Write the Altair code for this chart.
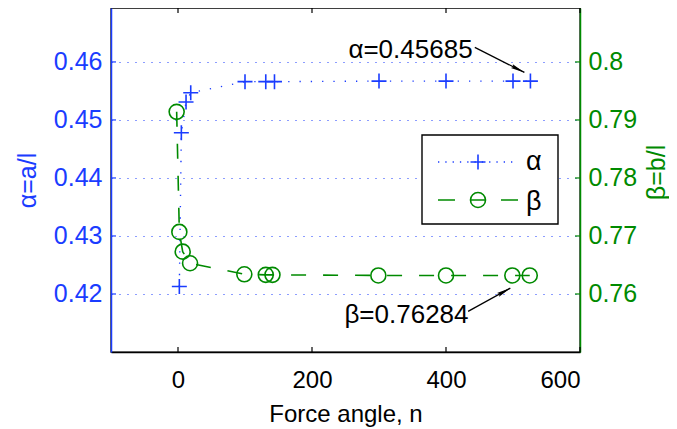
import math
import altair as alt
import pandas as pd

# ---------------- data ----------------
alpha_x = [2, 5, 12, 19, 100, 131, 144, 300, 400, 500, 526]
alpha_v = [0.4213, 0.4478, 0.4531, 0.4547, 0.4566, 0.4566, 0.4566, 0.4567, 0.4567, 0.4567, 0.4567]
beta_x = [-2, 2, 7, 18, 99, 131, 141, 299, 400, 499, 525]
beta_v = [0.7914, 0.7707, 0.7673, 0.7653, 0.7634, 0.7633, 0.7633, 0.7632, 0.7632, 0.7632, 0.7632]

x_ticks = [0, 200, 400, 600]
alpha_ticks = [0.42, 0.43, 0.44, 0.45, 0.46]
beta_ticks = [0.76, 0.77, 0.78, 0.79, 0.8]

alpha_note = {"text": "α=0.45685", "x": 347, "y": 0.4621,
              "x1": 443, "y1": 0.4625, "x2": 517, "y2": 0.4582}
beta_note = {"text": "β=0.76284", "x": 341, "y": 0.7564,
             "x1": 433, "y1": 0.7570, "x2": 496, "y2": 0.7610}

legend_labels = ["α", "β"]

# ---------------- layout / style ----------------
W, H = 469, 344
X_DOM = [-100, 600]
A_DOM = [0.41, 0.4693]
B_DOM = [0.75, 0.8093]
BLUE = "#1a3cff"
GREEN = "#008a00"
FONT = "Liberation Sans"

PLUS = "M-1,0L1,0M0,-1L0,1"
HEAD = "M0,0L0.3,2L0,1.75L-0.3,2Z"


def px(v):
    return (v - X_DOM[0]) / (X_DOM[1] - X_DOM[0]) * W


def py(v, dom):
    return H - (v - dom[0]) / (dom[1] - dom[0]) * H


def head_angle(n, dom):
    dx = px(n["x2"]) - px(n["x1"])
    dy = py(n["y2"], dom) - py(n["y1"], dom)
    return (math.degrees(math.atan2(dx, -dy)) + 360) % 360


xscale = alt.Scale(domain=X_DOM, nice=False, zero=False)
ascale = alt.Scale(domain=A_DOM, nice=False, zero=False)
bscale = alt.Scale(domain=B_DOM, nice=False, zero=False)

df_a = pd.DataFrame({"x": alpha_x, "v": alpha_v})
df_b = pd.DataFrame({"x": beta_x, "v": beta_v})
df_xt = pd.DataFrame({"x": x_ticks})
df_at = pd.DataFrame({"v": alpha_ticks})
df_bt = pd.DataFrame({"v": beta_ticks})
df_an = pd.DataFrame([dict(alpha_note, angle=head_angle(alpha_note, A_DOM))])
df_bn = pd.DataFrame([dict(beta_note, angle=head_angle(beta_note, B_DOM))])
one = pd.DataFrame({"k": [0]})

x_axis = alt.Axis(values=x_ticks, title="Force angle, n", ticks=False,
                  domainColor="black", domainWidth=1.5, labelFontSize=24,
                  labelPadding=16, labelColor="black", titleFontSize=24,
                  titleColor="black", titleFontWeight="normal", titlePadding=10,
                  grid=False, labelFont=FONT, titleFont=FONT)

a_axis = alt.Axis(values=alpha_ticks, format="~g", title="α=a/l", ticks=False,
                  orient="left",
                  domainColor=BLUE, domainWidth=1.5, labelColor=BLUE,
                  labelFontSize=25, labelPadding=9, titleColor=BLUE,
                  titleFontSize=25, titleFontWeight="normal",
                  titleX=-84, titleY=H / 2, titleAngle=270, titleAlign="center",
                  titleBaseline="middle", grid=True, gridColor=BLUE,
                  gridDash=[1, 7], gridWidth=1.2, gridOpacity=1,
                  labelFont=FONT, titleFont=FONT)

b_axis = alt.Axis(values=beta_ticks, format="~g", title="β=b/l", ticks=False,
                  orient="right", domainColor=GREEN, domainWidth=1.5,
                  labelColor=GREEN, labelFontSize=25, labelPadding=8,
                  titleColor=GREEN, titleFontSize=25, titleFontWeight="normal",
                  titleX=76, titleY=H / 2 - 8, titleAngle=270,
                  titleAlign="center", titleBaseline="middle", grid=False,
                  labelFont=FONT, titleFont=FONT)

X = lambda f: alt.X(f, type="quantitative", scale=xscale, axis=x_axis)
YA = lambda f: alt.Y(f, type="quantitative", scale=ascale, axis=a_axis)
YB = lambda f: alt.Y(f, type="quantitative", scale=bscale, axis=b_axis)

# ---------------- alpha group ----------------
a_line = alt.Chart(df_a).mark_line(color=BLUE, strokeDash=[1.3, 10], strokeWidth=1.4).encode(
    x=X("x"), y=YA("v"))
a_pts = alt.Chart(df_a).mark_point(shape=PLUS, size=225, filled=False, color=BLUE,
                                   strokeWidth=1.6, opacity=1).encode(
    x=X("x"), y=YA("v"))
a_ticks = alt.Chart(df_at).mark_rule(color=BLUE, strokeWidth=1.2).encode(
    y=YA("v"), x=alt.value(0), x2=alt.value(5))
x_ticks_b = alt.Chart(df_xt).mark_rule(color="black", strokeWidth=1.2).encode(
    x=X("x"), y=alt.value(H), y2=alt.value(H - 5))
x_ticks_t = alt.Chart(df_xt).mark_rule(color="black", strokeWidth=1.2).encode(
    x=X("x"), y=alt.value(0), y2=alt.value(5))
a_arrow = alt.Chart(df_an).mark_rule(color="black", strokeWidth=1.3).encode(
    x=X("x1"), x2="x2:Q", y=YA("y1"), y2="y2:Q")
a_head = alt.Chart(df_an).mark_point(shape=HEAD, size=196, filled=True, color="black",
                                     opacity=1, strokeWidth=0.5).encode(
    x=X("x2"), y=YA("y2"), angle=alt.Angle("angle:Q", scale=None))
a_text = alt.Chart(df_an).mark_text(fontSize=26, font=FONT, color="black",
                                    baseline="middle", align="center").encode(
    x=X("x"), y=YA("y"), text="text:N")
alpha_group = alt.layer(a_line, a_pts, a_ticks, x_ticks_b, x_ticks_t, a_arrow, a_head, a_text)

# ---------------- beta group ----------------
b_line = alt.Chart(df_b).mark_line(color=GREEN, strokeDash=[15, 17], strokeWidth=1.6).encode(
    x=X("x"), y=YB("v"))
b_pts = alt.Chart(df_b).mark_point(shape="circle", size=225, filled=False, color=GREEN,
                                   strokeWidth=1.6, opacity=1).encode(
    x=X("x"), y=YB("v"))
b_ticks = alt.Chart(df_bt).mark_rule(color=GREEN, strokeWidth=1.2).encode(
    y=YB("v"), x=alt.value(W - 5), x2=alt.value(W))
b_arrow = alt.Chart(df_bn).mark_rule(color="black", strokeWidth=1.3).encode(
    x=X("x1"), x2="x2:Q", y=YB("y1"), y2="y2:Q")
b_head = alt.Chart(df_bn).mark_point(shape=HEAD, size=196, filled=True, color="black",
                                     opacity=1, strokeWidth=0.5).encode(
    x=X("x2"), y=YB("y2"), angle=alt.Angle("angle:Q", scale=None))
b_text = alt.Chart(df_bn).mark_text(fontSize=26, font=FONT, color="black",
                                    baseline="middle", align="center").encode(
    x=X("x"), y=YB("y"), text="text:N")
beta_group = alt.layer(b_line, b_pts, b_ticks, b_arrow, b_head, b_text)

# ---------------- legend ----------------
LX0, LX1, LY0, LY1 = 311, 447, 127, 216
ROW_A, ROW_B = 154, 192
lg_box = alt.Chart(one).mark_rect(fill="white", stroke="black", strokeWidth=1.4).encode(
    x=alt.value(LX0), x2=alt.value(LX1), y=alt.value(LY0), y2=alt.value(LY1))
lg_a_line = alt.Chart(one).mark_rule(color=BLUE, strokeDash=[1.3, 6], strokeWidth=1.4).encode(
    x=alt.value(327), x2=alt.value(402), y=alt.value(ROW_A))
lg_a_pt = alt.Chart(one).mark_point(shape=PLUS, size=225, filled=False, color=BLUE,
                                    strokeWidth=1.6, opacity=1).encode(
    x=alt.value(367), y=alt.value(ROW_A))
lg_b_line = alt.Chart(one).mark_rule(color=GREEN, strokeDash=[17, 15, 16, 15, 17],
                                     strokeWidth=1.6).encode(
    x=alt.value(327), x2=alt.value(407), y=alt.value(ROW_B))
lg_b_pt = alt.Chart(one).mark_point(shape="circle", size=225, filled=False, color=GREEN,
                                    strokeWidth=1.6, opacity=1).encode(
    x=alt.value(367), y=alt.value(ROW_B))
lg_a_txt = alt.Chart(one).mark_text(text=legend_labels[0], fontSize=27, font=FONT,
                                    color="black", align="left", baseline="middle").encode(
    x=alt.value(415), y=alt.value(ROW_A))
lg_b_txt = alt.Chart(one).mark_text(text=legend_labels[1], fontSize=27, font=FONT,
                                    color="black", align="left", baseline="middle").encode(
    x=alt.value(415), y=alt.value(ROW_B + 2))
legend_group = alt.layer(lg_box, lg_a_line, lg_a_pt, lg_b_line, lg_b_pt, lg_a_txt, lg_b_txt)

chart = alt.layer(alpha_group, beta_group, legend_group).resolve_scale(
    y="independent"
).properties(
    width=W, height=H,
    autosize=alt.AutoSizeParams(type="none"),
    padding={"left": 103, "top": 0, "right": 89, "bottom": 77},
).configure(
    font=FONT, background="white",
    view=alt.ViewConfig(stroke="black", strokeWidth=1.4),
)

chart.save("out.html", embed_options={"renderer": "svg", "actions": False})
